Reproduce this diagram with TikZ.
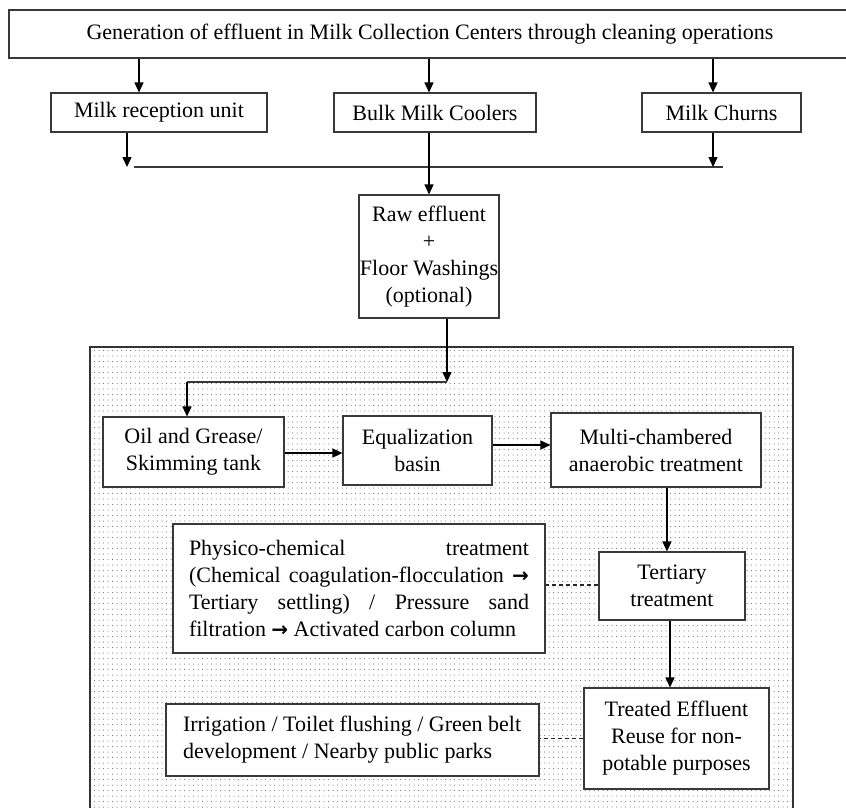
\documentclass[tikz,border=0pt]{standalone}
\usepackage{fontspec}
\setmainfont{Liberation Serif}
\newfontfamily\arrowfont{DejaVu Sans}
\usetikzlibrary{arrows.meta,patterns,calc}
\pgfdeclarepatternformonly{mydots}{\pgfqpoint{-1pt}{-1pt}}{\pgfqpoint{1pt}{1pt}}{\pgfqpoint{4.5pt}{5.5pt}}{%
  \pgfpathcircle{\pgfqpoint{0pt}{0pt}}{0.5pt}\pgfusepath{fill}}
\newcommand{\rarr}{{\arrowfont\bfseries\fontsize{20}{27}\selectfont →}}
\tikzset{
  box/.style={draw=gray!45!black, line width=1.1pt, fill=white, inner sep=0pt, align=center,
    font=\fontsize{22}{27}\selectfont},
  arr/.style={draw=black, line width=1.4pt, -{Triangle[length=10pt,width=9pt]}},
  hl/.style={draw=gray!45!black, line width=1.2pt},
  dsh/.style={draw=gray!30!black, line width=1.2pt, dash pattern=on 4pt off 3pt},
}
\begin{document}
\begin{tikzpicture}[x=1pt,y=1pt]
\useasboundingbox (0,0) rectangle (846,-807);
% dotted treatment area
\path[pattern=mydots, pattern color=black!65] (90,-347) rectangle (793,-820);
\draw[draw=gray!40!black, line width=1.3pt] (90,-347) rectangle (793,-820);

\node[box, minimum width=842pt, minimum height=48pt] (top) at (430,-34)
  {Generation of effluent in Milk Collection Centers through cleaning operations};

\node[box, minimum width=216pt, minimum height=39pt] (rec) at (159,-112.5) {Milk reception unit};
\node[box, minimum width=202pt, minimum height=39pt] (bulk) at (435,-112.5) {Bulk Milk Coolers};
\node[box, minimum width=159pt, minimum height=39pt] (churn) at (721.5,-112.5) {Milk Churns};

\node[box, minimum width=140pt, minimum height=123pt] (raw) at (429,-256.5)
  {Raw effluent\\+\\Floor Washings\\(optional)};

\node[box, minimum width=181pt, minimum height=70pt] (oil) at (193.5,-452)
  {Oil and Grease/\\Skimming tank};
\node[box, minimum width=149pt, minimum height=69pt] (eq) at (417.5,-450.5)
  {Equalization\\basin};
\node[box, minimum width=210pt, minimum height=74pt] (multi) at (656,-450)
  {Multi-chambered\\anaerobic treatment};
\node[box, minimum width=146pt, minimum height=68pt] (tert) at (672,-586)
  {Tertiary\\treatment};
\node[box, minimum width=372pt, minimum height=129pt, align=left] (phys) at (359,-588.5)
  {\makebox[340pt][s]{Physico-chemical\hfil treatment}\\
   \makebox[340pt][s]{(Chemical coagulation-flocculation \rarr}\\
   \makebox[340pt][s]{Tertiary\hfil settling)\hfil /\hfil Pressure\hfil sand}\\
   \makebox[340pt][l]{filtration \rarr\ Activated carbon column}};
\node[box, minimum width=185pt, minimum height=101pt] (treat) at (676.5,-738.5)
  {Treated Effluent\\Reuse for non-\\potable purposes};
\node[box, minimum width=373pt, minimum height=72pt, align=left] (irr) at (352.5,-740)
  {\makebox[339pt][l]{Irrigation / Toilet flushing / Green belt}\\
   \makebox[339pt][l]{development / Nearby public parks}};

% top arrows
\draw[arr] ([xshift=-20pt]rec.north |- top.south) -- ([xshift=-20pt]rec.north);
\draw[arr] ([xshift=-6pt]bulk.north |- top.south) -- ([xshift=-6pt]bulk.north);
\draw[arr] ([xshift=-8.5pt]churn.north |- top.south) -- ([xshift=-8.5pt]churn.north);

% collector line
\coordinate (j1) at (134,-167);
\coordinate (j2) at (723,-167);
\draw[hl] (j1) -- (j2);
\draw[arr] ([xshift=-32pt]rec.south) -- ([xshift=-32pt]rec.south |- j1);
\draw[arr] ([xshift=-8.5pt]churn.south) -- ([xshift=-8.5pt]churn.south |- j1);
\draw[arr] ([xshift=-6pt]bulk.south) -- ([xshift=-6pt]bulk.south |- raw.north);

% raw to treatment
\coordinate (s1) at (447,-382);
\coordinate (s2) at (187,-382);
\draw[arr] (raw.south -| s1) -- (s1);
\draw[hl] (s1) -- (s2);
\draw[arr] (s2) -- (s2 |- oil.north);

\draw[arr] ([yshift=-1pt]oil.east) -- ([yshift=-1pt]oil.east -| eq.west);
\draw[arr] ([yshift=5.5pt]eq.east) -- ([yshift=5.5pt]eq.east -| multi.west);
\draw[arr] ([xshift=11pt]multi.south) -- ([xshift=11pt]multi.south |- tert.north);
\draw[arr] ([xshift=-2pt]tert.south) -- ([xshift=-2pt]tert.south |- treat.north);

\draw[dsh] ([yshift=1pt]tert.west) -- ([yshift=1pt]tert.west -| phys.east);
\draw[dsh] (treat.west) -- (treat.west -| irr.east);
\end{tikzpicture}
\end{document}
